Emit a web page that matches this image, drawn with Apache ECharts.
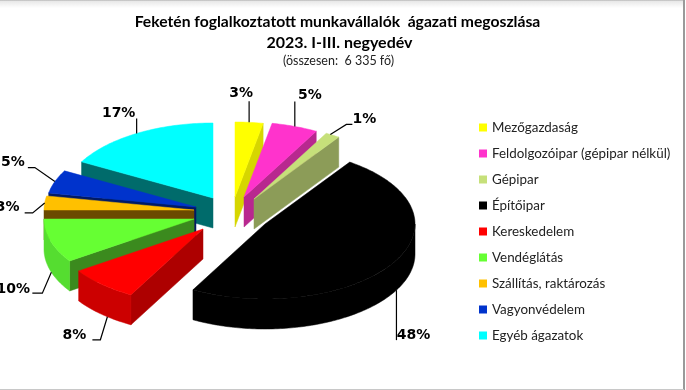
<!DOCTYPE html>
<html>
<head>
<meta charset="utf-8">
<script src="https://cdn.jsdelivr.net/npm/echarts@6/dist/echarts.min.js"></script>
<style>
html, body { margin: 0; padding: 0; background: #fff; }
#chart { width: 686px; height: 390px; }
</style>
</head>
<body>
<div id="chart"></div>
<script>
let categories = ['Mezőgazdaság', 'Feldolgozóipar (gépipar nélkül)', 'Gépipar', 'Építőipar', 'Kereskedelem', 'Vendéglátás', 'Szállítás, raktározás', 'Vagyonvédelem', 'Egyéb ágazatok'];
let values = [3, 5, 1, 48, 8, 10, 3, 5, 17];

let topColors = ['#ffff00', '#ff33cc', '#c6e07a', '#000000', '#ff0000', '#66ff33', '#ffc000', '#0033cc', '#00ffff'];
let arcColors = ['#d6d600', '#b8288f', '#8c9c58', '#000000', '#cc0000', '#55dd30', '#6b4a00', '#001a66', '#006b6b'];
let sideColors = ['#d6d600', '#b8288f', '#8c9c58', '#000000', '#ad0000', '#3b8a1e', '#6b4a00', '#001a66', '#006b6b'];

// how far each slice is pulled out of the pie (x, y)
let pull = [[5, -15], [14, -15], [24, -13], [35, 12], [-27, 17], [-36, 7], [-36, -2], [-34, -5], [-17, -14]];
// perspective in the reference moves the slice edges a bit, degrees on each start angle
let edgeShift = [0, 0, 0, 2, 3.5, 2, 0, 0, 0];
// back to front
let paintOrder = [8, 7, 6, 5, 4, 0, 1, 2, 3];
// leader line steps from the rim, then label offset from the end of the line
let leaderSteps = [
    [[0, -21]],
    [[0, -25]],
    [[16, -10], [22, -10]],
    [[0, 50]],
    [[-7, 23], [-15, 23]],
    [[-9, 21], [-19, 21]],
    [[-12, 10], [-20, 10]],
    [[-20, -14], [-27, -14]],
    [[0, -15]]
];
let labelOffsets = [[-8, -8], [15, -6], [12, -5], [17, -5], [-18, -4], [-19, -4], [-17, -6], [-15, -5], [-18, -5]];

let cx = 230, cy = 212, rx = 150, ry = 75, depth = 30;

let total = values.reduce(function (a, b) { return a + b; }, 0);
let starts = [];
values.reduce(function (sum, v, i) {
    starts[i] = sum / total * 360;
    return sum + v;
}, 0);

function rad(d) { return d * Math.PI / 180; }

function makeSlice(i) {
    let mid = starts[i] + values[i] / total * 180;
    let a0 = starts[i] + edgeShift[i];
    let a1 = i + 1 < starts.length ? starts[i + 1] + edgeShift[i + 1] : 360;
    let ax = cx + pull[i][0];
    let ay = cy + pull[i][1];
    function rim(a, drop) {
        return [ax + rx * Math.sin(rad(a)), ay - ry * Math.cos(rad(a)) + (drop || 0)];
    }
    function arc(from, to, drop) {
        let pts = [];
        for (let a = from; a < to; a += 1) pts.push(rim(a, drop));
        pts.push(rim(to, drop));
        return pts;
    }
    let children = [];
    function poly(points, fill) {
        children.push({ type: 'polygon', shape: { points: points }, style: { fill: fill, stroke: fill, lineWidth: 0.5 } });
    }
    function sideWall(a) {
        let e = rim(a);
        poly([[ax, ay], e, [e[0], e[1] + depth], [ax, ay + depth]], sideColors[i]);
    }
    // only the walls that face the viewer
    if (a0 > 180) sideWall(a0);
    if (a1 < 180) sideWall(a1);
    let f0 = Math.max(a0, 90), f1 = Math.min(a1, 270);
    if (f0 < f1) {
        poly(arc(f0, f1, 0).concat(arc(f0, f1, depth).reverse()), arcColors[i]);
    }
    poly([[ax, ay]].concat(arc(a0, a1, 0)), topColors[i]);

    // leader line and percent label
    let onFront = mid > 90 && mid < 270;
    let start = rim(mid, onFront ? depth : 0);
    let line = [start].concat(leaderSteps[i].map(function (s) { return [start[0] + s[0], start[1] + s[1]]; }));
    let end = line[line.length - 1];
    children.push({ type: 'polyline', shape: { points: line }, style: { fill: 'none', stroke: '#000', lineWidth: 1.2 } });
    children.push({
        type: 'text',
        style: {
            x: end[0] + labelOffsets[i][0],
            y: end[1] + labelOffsets[i][1],
            text: values[i] + '%',
            align: 'center',
            verticalAlign: 'middle',
            font: 'bold 14px "DejaVu Sans"',
            fill: '#000'
        }
    });
    return { type: 'group', children: children };
}

let series = categories.map(function (name, i) {
    return {
        name: name,
        type: 'custom',
        coordinateSystem: 'none',
        z: 2 + paintOrder.indexOf(i),
        silent: true,
        itemStyle: { color: topColors[i] },
        data: [values[i]],
        renderItem: function () { return makeSlice(i); }
    };
});

let myChart = echarts.init(document.getElementById('chart'));
myChart.setOption({
    backgroundColor: '#ffffff',
    animation: false,
    title: [
        {
            text: 'Feketén foglalkoztatott munkavállalók  ágazati megoszlása',
            left: 337.5,
            top: 14,
            padding: 0,
            textAlign: 'center',
            textStyle: { fontFamily: 'Lato', fontWeight: 'bold', fontSize: 15.7, color: '#000' }
        },
        {
            text: '2023. I-III. negyedév',
            left: 339.5,
            top: 35,
            padding: 0,
            textAlign: 'center',
            textStyle: { fontFamily: 'Lato', fontWeight: 'bold', fontSize: 16, color: '#000' }
        },
        {
            text: '(összesen:  6 335 fő)',
            left: 338.5,
            top: 54,
            padding: 0,
            textAlign: 'center',
            textStyle: { fontFamily: 'Lato', fontWeight: 'normal', fontSize: 12.5, color: '#222' }
        }
    ],
    legend: {
        orient: 'vertical',
        left: 479,
        top: 121,
        padding: 0,
        icon: 'rect',
        itemWidth: 8,
        itemHeight: 8,
        itemGap: 13,
        data: categories,
        selectedMode: false,
        textStyle: { fontFamily: 'Lato', fontSize: 13.4, color: '#222', height: 13, lineHeight: 13 }
    },
    graphic: [
        {
            type: 'rect',
            shape: { x: 0, y: 0, width: 684, height: 8 },
            style: {
                fill: new echarts.graphic.LinearGradient(0, 0, 0, 1, [
                    { offset: 0, color: '#b0b0b0' },
                    { offset: 0.15, color: '#e8e8e8' },
                    { offset: 1, color: '#ffffff' }
                ])
            },
            silent: true
        },
        { type: 'rect', shape: { x: 683, y: 0, width: 2, height: 390 }, style: { fill: '#9a9a9a' }, silent: true },
        { type: 'rect', shape: { x: 0, y: 389, width: 684, height: 1 }, style: { fill: '#c8c8c8' }, silent: true }
    ],
    series: series
});
</script>
</body>
</html>
